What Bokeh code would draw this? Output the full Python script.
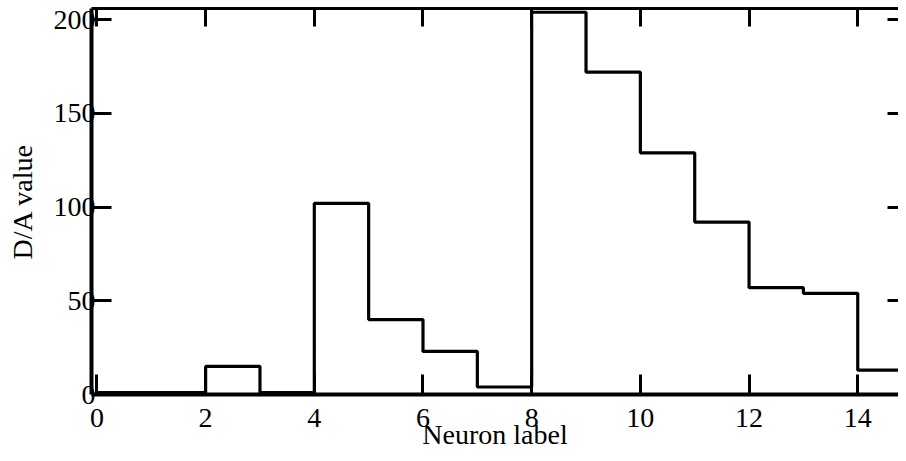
from bokeh.plotting import figure
from bokeh.models import LinearAxis, FixedTicker, Range1d
from bokeh.embed import file_html
from bokeh.resources import INLINE

# Data
bin_edges = list(range(16))
da_values = [1, 1, 15, 1, 102, 40, 23, 4, 204, 172, 129, 92, 57, 54, 13]
x_ticks = [0, 2, 4, 6, 8, 10, 12, 14]
y_ticks = [0, 50, 100, 150, 200]
x_label = "Neuron label"
y_label = "D/A value"

FONT = "Liberation Serif"

p = figure(
    frame_width=807, frame_height=386,
    x_range=Range1d(-0.1, 14.75), y_range=Range1d(0, 206),
    output_backend="svg", toolbar_location=None,
    min_border_left=91, min_border_right=0, min_border_top=8, min_border_bottom=50,
    background_fill_color="white", border_fill_color="white",
)
p.outline_line_color = None
p.grid.visible = False

step_y = da_values + [da_values[-1]]
p.step(bin_edges, step_y, mode="after", line_color="black", line_width=3.2)

def style_axis(ax, ticks, tick_len, labels=True):
    ax.ticker = FixedTicker(ticks=ticks)
    ax.minor_tick_line_color = None
    ax.major_tick_in = tick_len
    ax.major_tick_out = 0
    ax.major_tick_line_width = 3
    ax.major_tick_line_color = "black"
    ax.axis_line_width = 4
    ax.axis_line_color = "black"
    if labels:
        ax.major_label_text_font = FONT
        ax.major_label_text_font_size = "28px"
        ax.major_label_text_color = "black"
    else:
        ax.major_label_overrides = {t: "" for t in ticks}
        ax.major_label_text_font_size = "1px"
        ax.major_label_standoff = 0

xa = p.xaxis[0]
style_axis(xa, x_ticks, 20)
xa.major_label_standoff = 14
xa.axis_label = x_label
xa.axis_label_text_font = FONT
xa.axis_label_text_font_size = "28px"
xa.axis_label_text_font_style = "normal"
xa.axis_label_text_color = "black"
xa.axis_label_standoff = -11

ya = p.yaxis[0]
style_axis(ya, y_ticks, 20)
ya.major_label_standoff = -4
ya.axis_label = y_label
ya.axis_label_text_font = FONT
ya.axis_label_text_font_size = "28px"
ya.axis_label_text_font_style = "normal"
ya.axis_label_text_color = "black"
ya.axis_label_standoff = 13

top = LinearAxis()
style_axis(top, x_ticks, 18, labels=False)
top.axis_line_width = 3
p.add_layout(top, "above")

right = LinearAxis()
style_axis(right, y_ticks, 11, labels=False)
right.axis_line_color = None
p.add_layout(right, "right")

open("out.html", "w").write(file_html(p, INLINE))
